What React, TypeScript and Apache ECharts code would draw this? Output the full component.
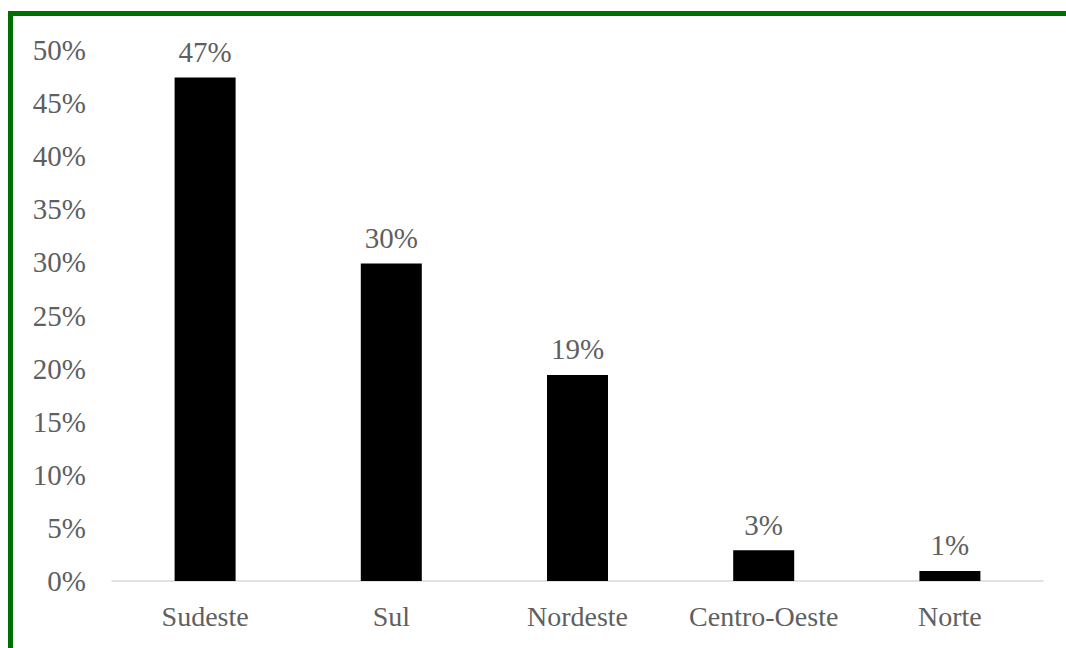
import React, { useEffect, useRef } from "react";
import * as echarts from "echarts";

const categories = ["Sudeste", "Sul", "Nordeste", "Centro-Oeste", "Norte"];
const values = [47.4, 29.9, 19.4, 2.9, 0.95];
const yTicks = { min: 0, max: 50, interval: 5 };

export default function App() {
  const ref = useRef<HTMLDivElement>(null);
  useEffect(() => {
    if (!ref.current) return;
    const chart = echarts.init(ref.current, null, { renderer: "svg" });
    const font = "'Liberation Serif', 'Times New Roman', serif";
    chart.setOption({
      animation: false,
      backgroundColor: "#ffffff",
      grid: { left: 112, right: 23, top: 50, bottom: 67 },
      xAxis: {
        type: "category",
        data: categories,
        axisLine: { lineStyle: { color: "#d9d9d9", width: 1.5 } },
        axisTick: { show: false },
        axisLabel: { color: "#5f5f5f", fontSize: 28, fontFamily: font, margin: 21, interval: 0, hideOverlap: false },
      },
      yAxis: {
        type: "value",
        min: yTicks.min,
        max: yTicks.max,
        interval: yTicks.interval,
        axisLine: { show: false },
        axisTick: { show: false },
        splitLine: { show: false },
        axisLabel: { color: "#5f5f5f", fontSize: 29, fontFamily: font, margin: 26, formatter: "{value}%" },
      },
      series: [
        {
          type: "bar",
          data: values,
          barWidth: 61,
          itemStyle: { color: "#000000" },
          label: {
            show: true,
            position: "top",
            distance: 11,
            color: "#5f5f5f",
            fontSize: 29,
            fontFamily: font,
            formatter: (p: any) => Math.round(p.value) + "%",
          },
        },
      ],
    });
    return () => chart.dispose();
  }, []);
  return (
    <div style={{ position: "fixed", left: 0, top: 0, width: 1066, height: 648, overflow: "hidden", background: "#fff" }}>
      <div ref={ref} style={{ position: "absolute", left: 0, top: 0, width: 1066, height: 648 }} />
      <div
        style={{
          position: "absolute",
          left: 8,
          top: 11,
          width: 1200,
          height: 800,
          borderTop: "5px solid #006e00",
          borderLeft: "5px solid #006e00",
          pointerEvents: "none",
        }}
      />
    </div>
  );
}
